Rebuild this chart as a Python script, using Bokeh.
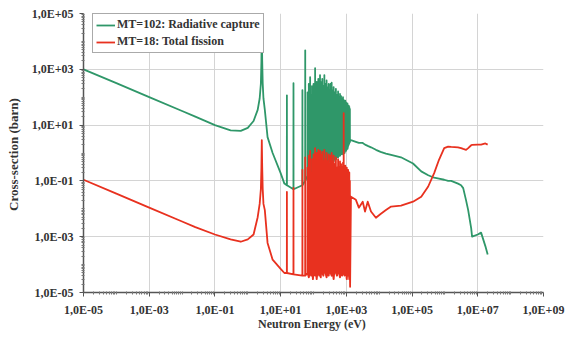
from bokeh.plotting import figure
from bokeh.models import Range1d, FixedTicker, CustomJSTickFormatter, Legend, LegendItem
from bokeh.embed import file_html
from bokeh.resources import INLINE

# ---------------- data ----------------
# thermal / 2.67 eV resonance region
low_E = [1e-5, 1e-4, 1e-3, 1e-2, 0.0253, 0.1, 0.3, 0.61, 1.0, 1.5, 2.0, 2.3, 2.5, 2.6,
         2.67, 2.75, 2.85, 3.0, 3.3, 4.0, 5.7, 10, 13]
low_cap = [1000, 320, 100, 32, 20, 10, 6.5, 6.2, 8, 14, 35, 90, 300, 2000,
           37000, 2000, 300, 90, 35, 3.7, 1.0, 0.19, 0.08]
low_fis = [0.11, 0.035, 0.011, 0.0035, 0.0022, 0.0012, 0.0008, 0.00066, 0.0008, 0.0012,
           0.005, 0.015, 0.05, 0.3, 2.9, 0.3, 0.05, 0.015, 0.009, 6e-4, 1.5e-4, 7e-5, 5e-5]

# resolved resonances (energy, peak and base level of each series)
res_E = [15.5, 24.6, 46, 56, 66, 72, 79, 85, 90, 96, 100, 106, 112, 118, 125, 132, 140,
         149, 158, 166, 174, 185, 200, 214, 230, 250, 270, 290, 310, 330, 357, 380, 410,
         440, 480, 520, 560, 600, 640, 690, 740, 790, 830, 880, 930, 980, 1030, 1080,
         1130, 1180, 1230, 1280]
res_cap_peak = [117, 316, 180, 4800, 150, 300, 520, 120, 250, 90, 300, 150, 1100, 200,
                350, 150, 450, 250, 620, 200, 350, 450, 250, 620, 300, 400, 220, 300, 180,
                300, 330, 180, 230, 150, 200, 120, 160, 100, 130, 110, 85, 100, 80, 65,
                75, 65, 55, 60, 45, 50, 45, 38]
res_cap_base = [0.07, 0.05, 0.07, 0.1, 0.15, 0.2, 0.25, 0.18, 0.3, 0.2, 0.25, 0.3, 0.22,
                0.35, 0.25, 0.3, 0.4, 0.3, 0.35, 0.45, 0.3, 0.4, 0.5, 0.35, 0.45, 0.4, 0.5,
                0.45, 0.6, 0.5, 0.55, 0.6, 0.5, 0.7, 0.6, 0.8, 0.7, 0.9, 0.8, 1.0, 0.9, 1.1,
                1.2, 1.0, 1.3, 1.2, 1.5, 1.4, 1.8, 2.0, 2.3, 2.5]
res_fis_peak = [0.04, 0.056, 0.25, 0.7, 0.3, 0.8, 1.2, 0.2, 0.6, 0.15, 0.9, 0.3, 1.5, 0.4,
                1.0, 0.3, 1.3, 0.5, 1.2, 0.4, 0.9, 1.1, 0.5, 1.3, 0.6, 1.0, 0.5, 0.9, 0.4,
                0.8, 1.0, 0.5, 0.8, 0.4, 0.7, 0.3, 0.6, 0.3, 0.5, 0.4, 0.3, 0.45, 27, 0.3,
                0.35, 0.25, 0.3, 0.2, 0.25, 0.15, 0.2, 0.1]
res_fis_base = [5e-5, 4.5e-5, 4e-5, 4e-5, 5e-5, 3.5e-5, 6e-5, 4e-5, 8e-5, 3e-5, 5e-5,
                7e-5, 4e-5, 6e-5, 3e-5, 5e-5, 8e-5, 4e-5, 6e-5, 3.5e-5, 7e-5, 5e-5, 4e-5,
                9e-5, 5e-5, 3.5e-5, 6e-5, 4e-5, 8e-5, 5e-5, 4e-5, 6e-5, 3e-5, 7e-5, 5e-5,
                4e-5, 6e-5, 5e-5, 3.5e-5, 7e-5, 4e-5, 5e-5, 6e-5, 4e-5, 8e-5, 5e-5, 3e-5,
                6e-5, 4e-5, 5e-5, 3e-5, 5e-5]

# unresolved / fast region
high_E = [1300, 1380, 1950, 2400, 3150, 3700, 4470, 5620, 7940, 1.1e4, 1.6e4, 2.3e4,
          4.6e4, 1.07e5, 1.9e5, 3.1e5, 4.7e5, 6.6e5, 9.5e5, 1.25e6, 1.55e6, 2.5e6,
          3.1e6, 3.6e6, 4.4e6, 5.1e6, 6.3e6, 6.7e6, 1.0e7, 1.26e7, 1.7e7, 2.0e7]
high_cap = [3.0, 2.9, 2.5, 2.3, 2.3, 2.0, 1.8, 1.6, 1.3, 1.1, 0.95, 0.85, 0.7, 0.42,
            0.22, 0.16, 0.13, 0.12, 0.11, 0.1, 0.1, 0.08, 0.07, 0.055, 0.02, 0.009,
            0.002, 0.001, 0.0012, 0.0014, 4.6e-4, 2.3e-4]
high_fis = [1.6e-5, 0.027, 0.021, 0.011, 0.018, 0.008, 0.018, 0.008, 0.0048, 0.0065,
            0.009, 0.012, 0.013, 0.018, 0.027, 0.063, 0.19, 0.57, 1.5, 1.7, 1.65, 1.6,
            1.5, 1.4, 1.3, 1.5, 1.9, 1.95, 2.0, 2.0, 2.2, 2.0]

x_ticks = [1e-5, 1e-3, 1e-1, 1e1, 1e3, 1e5, 1e7, 1e9]
y_ticks = [1e-5, 1e-3, 1e-1, 1e1, 1e3, 1e5]

cap_label = "MT=102: Radiative capture"
fis_label = "MT=18: Total fission"
x_title = "Neutron Energy  (eV)"
y_title = "Cross-section  (barn)"

GREEN = "#2f9769"
RED = "#e8311f"
FONT = "Liberation Serif"


def build(lowE, lowV, rE, peaks, bases, hiE, hiV):
    E = list(lowE)
    V = list(lowV)
    for e, pk, b in zip(rE, peaks, bases):
        E += [e / 1.004, e, e * 1.004]
        V += [b, pk, b]
    E += list(hiE)
    V += list(hiV)
    return E, V


cap_x, cap_y = build(low_E, low_cap, res_E, res_cap_peak, res_cap_base, high_E, high_cap)
fis_x, fis_y = build(low_E, low_fis, res_E, res_fis_peak, res_fis_base, high_E, high_fis)

p = figure(width=565, height=339, x_axis_type="log", y_axis_type="log",
           x_range=Range1d(1e-5, 1e9), y_range=Range1d(1e-5, 1e5),
           output_backend="svg", toolbar_location=None,
           min_border_left=83, min_border_right=22, min_border_top=13,
           min_border_bottom=47)
p.outline_line_color = None
p.background_fill_color = "white"
p.border_fill_color = "white"

minors_x = []
for d in range(-5, 9):
    for k in range(1, 10):
        v = k * 10.0 ** d
        if v not in x_ticks:
            minors_x.append(v)
minors_y = []
for d in range(-5, 5):
    for k in range(1, 10):
        v = k * 10.0 ** d
        if v not in y_ticks:
            minors_y.append(v)

fmt = CustomJSTickFormatter(code="""
const e = Math.round(Math.log10(tick));
const s = String(Math.abs(e)).padStart(2, '0');
return '1,0E' + (e < 0 ? '-' : '+') + s;
""")

p.xaxis.ticker = FixedTicker(ticks=x_ticks, minor_ticks=minors_x)
p.yaxis.ticker = FixedTicker(ticks=y_ticks, minor_ticks=minors_y)
p.xgrid.ticker = FixedTicker(ticks=x_ticks)
p.ygrid.ticker = FixedTicker(ticks=y_ticks)
p.xaxis.formatter = fmt
p.yaxis.formatter = fmt

for ax in (p.xaxis[0], p.yaxis[0]):
    ax.axis_line_color = "#555555"
    ax.axis_line_width = 1.5
    ax.major_tick_line_color = "#555555"
    ax.minor_tick_line_color = "#777777"
    ax.major_tick_out = 4
    ax.major_tick_in = 0
    ax.minor_tick_out = 2
    ax.minor_tick_in = 1
    ax.major_label_text_font = FONT
    ax.major_label_text_font_style = "bold"
    ax.major_label_text_font_size = "12px"
    ax.major_label_text_color = "#333333"
    ax.axis_label_text_font = FONT
    ax.axis_label_text_font_style = "bold"
    ax.axis_label_text_color = "#333333"

p.xaxis.axis_label = x_title
p.yaxis.axis_label = y_title
p.xaxis.axis_label_text_font_size = "12px"
p.yaxis.axis_label_text_font_size = "13px"
p.xaxis.major_label_standoff = 6
p.yaxis.major_label_standoff = 6
p.xaxis.axis_label_standoff = -3
p.yaxis.axis_label_standoff = 8

for g in (p.xgrid[0], p.ygrid[0]):
    g.grid_line_color = "#d4d4d4"
    g.grid_line_width = 1

r_cap = p.line(cap_x, cap_y, line_color=GREEN, line_width=1.8, line_join="round")
r_fis = p.line(fis_x, fis_y, line_color=RED, line_width=1.8, line_join="round")

legend = Legend(items=[LegendItem(label=cap_label, renderers=[r_cap]),
                       LegendItem(label=fis_label, renderers=[r_fis])],
                location=(9, 239))
legend.label_text_font = FONT
legend.label_text_font_style = "bold"
legend.label_text_font_size = "12px"
legend.label_text_color = "#333333"
legend.border_line_color = "#555555"
legend.border_line_width = 1
legend.background_fill_alpha = 1.0
legend.padding = 3
legend.spacing = 2
legend.margin = 0
legend.glyph_width = 19
legend.glyph_height = 14
legend.label_height = 14
legend.label_standoff = 2
legend.label_text_line_height = 1.0
p.add_layout(legend)

open("out.html", "w").write(file_html(p, INLINE))
